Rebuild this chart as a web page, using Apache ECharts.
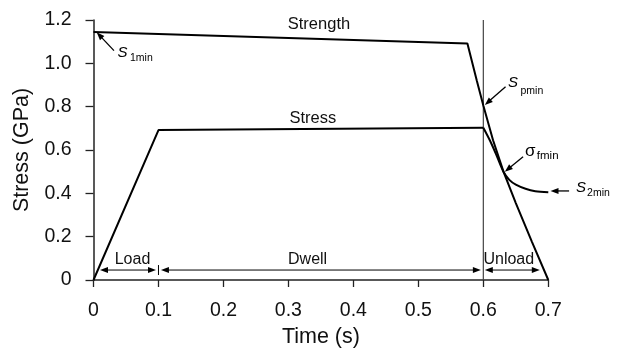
<!DOCTYPE html>
<html><head><meta charset="utf-8">
<script src="https://cdn.jsdelivr.net/npm/echarts@6/dist/echarts.min.js"></script>
<style>html,body{margin:0;padding:0;background:#fff}#c{width:627px;height:350px}</style>
</head><body><div id="c"></div>
<script>
// ---- data ----
const xTicks = [0, 0.1, 0.2, 0.3, 0.4, 0.5, 0.6, 0.7];
const yTicks = [0, 0.2, 0.4, 0.6, 0.8, 1.0, 1.2];
const strengthT = [0, 0.5755, 0.59, 0.6, 0.615, 0.631, 0.65, 0.675, 0.7];
const strengthV = [1.145, 1.092, 0.92, 0.805, 0.645, 0.50, 0.355, 0.175, 0];
const stressT = [0, 0.1, 0.6];
const stressV = [0, 0.692, 0.703];
const stressTailT = [0.6, 0.61, 0.62, 0.631, 0.64, 0.65, 0.665, 0.68, 0.7];
const stressTailV = [0.703, 0.645, 0.578, 0.50, 0.462, 0.44, 0.421, 0.41, 0.405];
const dwellEnd = 0.6;
const phaseNames = ['Load', 'Dwell', 'Unload'];
const phaseCenters = [0.06, 0.3295, 0.6392];
const phaseArrows = [[0.01, 0.0962], [0.1038, 0.5962], [0.6023, 0.6869]];

const zip = (a, b) => a.map((v, i) => [v, b[i]]);
const FONT = 'Liberation Sans';
const chart = echarts.init(document.getElementById('c'), null, {renderer: 'canvas'});
const fmt = v => (Math.abs(v) < 1e-9 ? '0' : v.toFixed(1));
const lineStyle = {color: '#000', width: 2};
chart.setOption({
  animation: false,
  grid: {left: 93.5, right: 78.7, top: 20, bottom: 70, containLabel: false, outerBoundsMode: 'none'},
  xAxis: {
    type: 'value', min: 0, max: 0.7, interval: 0.1,
    name: 'Time (s)', nameLocation: 'middle', nameGap: 42,
    nameTextStyle: {fontFamily: FONT, fontSize: 21.5, color: '#111'},
    axisLine: {onZero: false, lineStyle: {color: '#222', width: 1.5}},
    axisTick: {length: 7, lineStyle: {color: '#222', width: 1.3}},
    axisLabel: {formatter: fmt, margin: 21, fontFamily: FONT, fontSize: 19.5, color: '#111'},
    splitLine: {show: false}
  },
  yAxis: {
    type: 'value', min: 0, max: 1.2, interval: 0.2,
    name: 'Stress (GPa)', nameLocation: 'middle', nameGap: 56, nameRotate: 90,
    nameTextStyle: {fontFamily: FONT, fontSize: 21.5, color: '#111'},
    axisLine: {show: true, onZero: false, lineStyle: {color: '#222', width: 1.5}},
    axisTick: {show: true, length: 8, lineStyle: {color: '#222', width: 1.3}},
    axisLabel: {formatter: fmt, margin: 22, fontFamily: FONT, fontSize: 19.5, color: '#111'},
    splitLine: {show: false}
  },
  series: [
    {type: 'line', name: 'Strength', data: zip(strengthT, strengthV), symbol: 'none', lineStyle, clip: false},
    {type: 'line', name: 'Stress', data: zip(stressT, stressV), symbol: 'none', lineStyle, clip: false},
    {type: 'line', name: 'StressTail', data: zip(stressTailT, stressTailV), symbol: 'none', smooth: 0.3, lineStyle, clip: false},
    {type: 'line', name: 'DwellEnd', data: [[dwellEnd, 0], [dwellEnd, 1.2]], symbol: 'none',
     lineStyle: {color: '#444', width: 1.2}, clip: false, z: 1}
  ]
});

const P = (t, v) => chart.convertToPixel({gridIndex: 0}, [t, v]);
const g = [];
function head(tip, from, len, w) {
  const dx = tip[0] - from[0], dy = tip[1] - from[1];
  const L = Math.hypot(dx, dy), ux = dx / L, uy = dy / L;
  const bx = tip[0] - ux * len, by = tip[1] - uy * len;
  g.push({type: 'polygon', z: 200, shape: {points: [[tip[0], tip[1]], [bx - uy * w, by + ux * w], [bx + uy * w, by - ux * w]]},
    style: {fill: '#000', stroke: null, opacity: 1}});
  return [tip[0] - ux * (len - 1), tip[1] - uy * (len - 1)];
}
function seg(a, b, width) {
  g.push({type: 'polyline', z: 200, shape: {points: [[a[0], a[1]], [b[0], b[1]]]},
    style: {stroke: '#000', lineWidth: width || 1.3, fill: null, opacity: 1}});
}
function arrow(from, tip) {
  const a = P(from[0], from[1]), b = P(tip[0], tip[1]);
  const base = head(b, a, 8, 3);
  seg(a, base, 1.3);
}
function dimArrow(t0, t1, v) {
  const a = P(t0, v), b = P(t1, v);
  const ea = head(a, b, 8, 3);
  const eb = head(b, a, 8, 3);
  seg(ea, eb, 1);
}
function text(t, v, s, opts) {
  const p = P(t, v);
  g.push({type: 'text', x: p[0], y: p[1], z: 150,
    style: Object.assign({text: s, fontFamily: FONT, fontSize: 16.5, fill: '#111', align: 'center', verticalAlign: 'middle'}, opts || {})});
}

// curve labels
text(0.347, 1.1815, 'Strength');
text(0.3377, 0.7477, 'Stress');

// phase arrows
const arrowV = 0.046, labelV = 0.092;
phaseArrows.forEach(r => dimArrow(r[0], r[1], arrowV));
phaseNames.forEach((n, i) => text(phaseCenters[i], labelV, n, {fontSize: 16}));
seg(P(0.1, 0.023), P(0.1, 0.069), 1);

// annotations
const italicS = {fontSize: 15, fontStyle: 'italic', fill: '#000'};
const sub = {fontSize: 10.5, align: 'left', fill: '#000'};
text(0.0446, 1.0477, 'S', italicS);
text(0.0562, 1.023, '1min', sub);
arrow([0.0315, 1.0586], [0.0049, 1.1435]);

text(0.6458, 0.910, 'S', italicS);
text(0.6572, 0.872, 'pmin', sub);
arrow([0.6342, 0.892], [0.6023, 0.808]);

text(0.6722, 0.592, 'σ', {fontSize: 17, fill: '#000'});
text(0.6823, 0.5746, 'fmin', {fontSize: 11.5, align: 'left', fill: '#000'});
arrow([0.6612, 0.569], [0.6331, 0.4998]);

text(0.7505, 0.427, 'S', italicS);
text(0.7597, 0.4015, '2min', sub);
arrow([0.732, 0.411], [0.7034, 0.411]);

chart.setOption({graphic: {elements: g}});
</script></body></html>
